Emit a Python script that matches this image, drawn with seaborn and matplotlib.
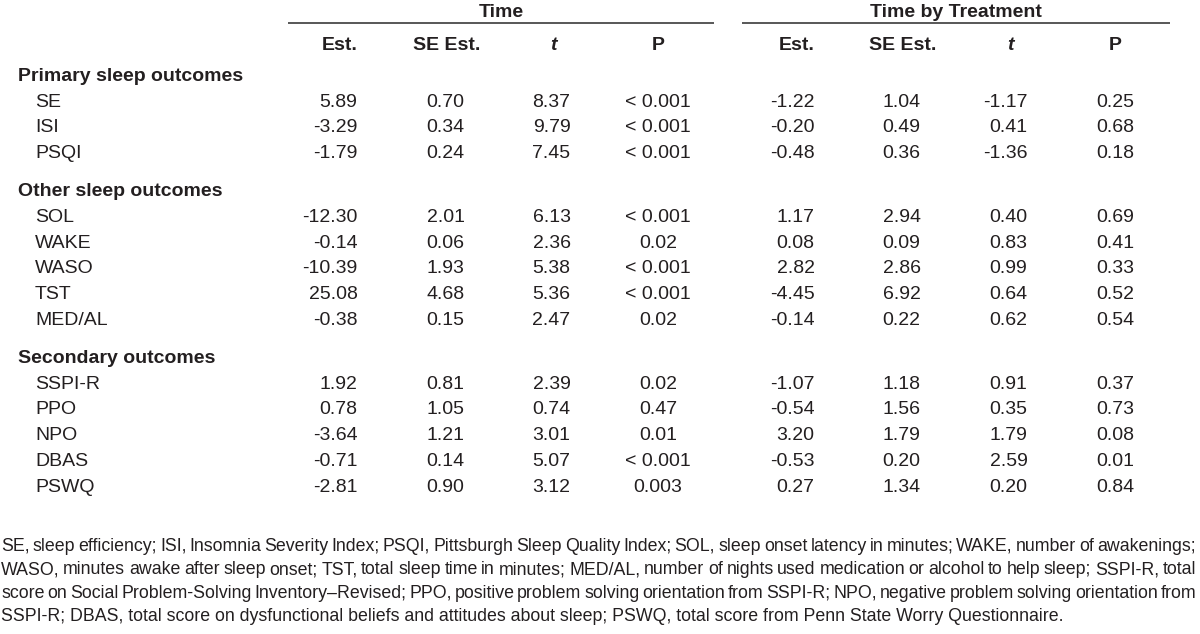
import matplotlib
matplotlib.use("Agg")
import matplotlib.pyplot as plt
import seaborn as sns
from matplotlib import font_manager

# ---- table content ----
groups = ["Time", "Time by Treatment"]
stat_cols = ["Est.", "SE Est.", "t", "P"]

sections = ["Primary sleep outcomes", "Other sleep outcomes", "Secondary outcomes"]
section_rows = [
    ["SE", "ISI", "PSQI"],
    ["SOL", "WAKE", "WASO", "TST", "MED/AL"],
    ["SSPI-R", "PPO", "NPO", "DBAS", "PSWQ"],
]

time_est = [5.89, -3.29, -1.79, -12.30, -0.14, -10.39, 25.08, -0.38, 1.92, 0.78, -3.64, -0.71, -2.81]
time_se = [0.70, 0.34, 0.24, 2.01, 0.06, 1.93, 4.68, 0.15, 0.81, 1.05, 1.21, 0.14, 0.90]
time_t = [8.37, 9.79, 7.45, 6.13, 2.36, 5.38, 5.36, 2.47, 2.39, 0.74, 3.01, 5.07, 3.12]
time_p = ["< 0.001", "< 0.001", "< 0.001", "< 0.001", "0.02", "< 0.001", "< 0.001",
          "0.02", "0.02", "0.47", "0.01", "< 0.001", "0.003"]

trt_est = [-1.22, -0.20, -0.48, 1.17, 0.08, 2.82, -4.45, -0.14, -1.07, -0.54, 3.20, -0.53, 0.27]
trt_se = [1.04, 0.49, 0.36, 2.94, 0.09, 2.86, 6.92, 0.22, 1.18, 1.56, 1.79, 0.20, 1.34]
trt_t = [-1.17, 0.41, -1.36, 0.40, 0.83, 0.99, 0.64, 0.62, 0.91, 0.35, 1.79, 2.59, 0.20]
trt_p = ["0.25", "0.68", "0.18", "0.69", "0.41", "0.33", "0.52", "0.54", "0.37",
         "0.73", "0.08", "0.01", "0.84"]

footnote_lines = [
    "SE, sleep efficiency; ISI, Insomnia Severity Index; PSQI, Pittsburgh Sleep Quality Index; "
    "SOL, sleep onset latency in minutes; WAKE, number of awakenings;",
    "WASO, minutes awake after sleep onset; TST, total sleep time in minutes; MED/AL, number of "
    "nights used medication or alcohol to help sleep; SSPI-R, total",
    "score on Social Problem-Solving Inventory\u2013Revised; PPO, positive problem solving "
    "orientation from SSPI-R; NPO, negative problem solving orientation from",
    "SSPI-R; DBAS, total score on dysfunctional beliefs and attitudes about sleep; PSWQ, total "
    "score from Penn State Worry Questionnaire.",
]

# ---- layout (pixels) ----
W, H = 1200, 634
TXT = "#231f20"
RULE = "#4a4a4a"
group_spans = [(288, 714), (742, 1170)]
col_centers = [[340, 447, 553, 658], [797, 903, 1010, 1115]]
num_shift = 17.5
label_x, row_x = 18, 35
first_row_y, row_step, section_gap = 74, 25.8, 12
foot_y0, foot_step = 544, 23.4
foot_x0, foot_x1 = 1, 1196
cap_half = 6.8

sns.set_theme(style="white")


def pick_font():
    for name in ["Liberation Sans Narrow", "Arial Narrow", "Liberation Sans"]:
        try:
            font_manager.findfont(name, fallback_to_default=False)
            return name
        except ValueError:
            continue
    return "DejaVu Sans"


FONT = pick_font()
plt.rcParams["font.family"] = [FONT, "DejaVu Sans"]
FS = 14

fig = plt.figure(figsize=(W / 100, H / 100), dpi=100)
ax = fig.add_axes([0, 0, 1, 1])
ax.set_xlim(0, W)
ax.set_ylim(H, 0)
ax.axis("off")


def put(x, y, s, ha="left", **kw):
    ax.text(x, y + cap_half, s, ha=ha, va="baseline", fontsize=FS, color=TXT, **kw)


# group headers and rules
for g, (x0, x1) in zip(groups, group_spans):
    put((x0 + x1) / 2, 10, g, ha="center", fontweight="bold")
    ax.hlines(23, x0, x1, color=RULE, lw=1.3)

for centers in col_centers:
    for c, x in zip(stat_cols, centers):
        put(x, 43, c, ha="center", fontweight="bold",
            fontstyle="italic" if c == "t" else "normal")

# body
series = [[time_est, time_se, time_t, time_p], [trt_est, trt_se, trt_t, trt_p]]
y = first_row_y
k = 0
for si, (sec, rows) in enumerate(zip(sections, section_rows)):
    if si > 0:
        y += section_gap
    put(label_x, y, sec, fontweight="bold")
    y += row_step
    for r in rows:
        put(row_x, y, r)
        for centers, cols in zip(col_centers, series):
            for j, (x, vals) in enumerate(zip(centers, cols)):
                v = vals[k]
                if j == 3:
                    put(x, y, v, ha="center")
                else:
                    put(x + num_shift, y, f"{v:.2f}", ha="right")
        y += row_step
        k += 1

# footnote: shrink the size until every line fits, then justify all but the last
fig.canvas.draw()
renderer = fig.canvas.get_renderer()


def word_widths(words, fs):
    out = []
    for w in words:
        t = ax.text(0, 0, w, fontsize=fs)
        out.append(t.get_window_extent(renderer).width)
        t.remove()
    return out


foot_fs = FS
while foot_fs > 8:
    ok = True
    for line in footnote_lines[:-1]:
        words = line.split(" ")
        need = sum(word_widths(words, foot_fs)) + (len(words) - 1) * foot_fs * 0.22
        if need > foot_x1 - foot_x0:
            ok = False
            break
    if ok:
        break
    foot_fs -= 0.25

for i, line in enumerate(footnote_lines):
    yy = foot_y0 + i * foot_step + cap_half
    if i == len(footnote_lines) - 1:
        ax.text(foot_x0, yy, line, fontsize=foot_fs, color=TXT, va="baseline")
        continue
    words = line.split(" ")
    widths = word_widths(words, foot_fs)
    gap = (foot_x1 - foot_x0 - sum(widths)) / (len(words) - 1)
    x = foot_x0
    for w, wd in zip(words, widths):
        ax.text(x, yy, w, fontsize=foot_fs, color=TXT, va="baseline")
        x += wd + gap

fig.savefig("out.png", dpi=100)
